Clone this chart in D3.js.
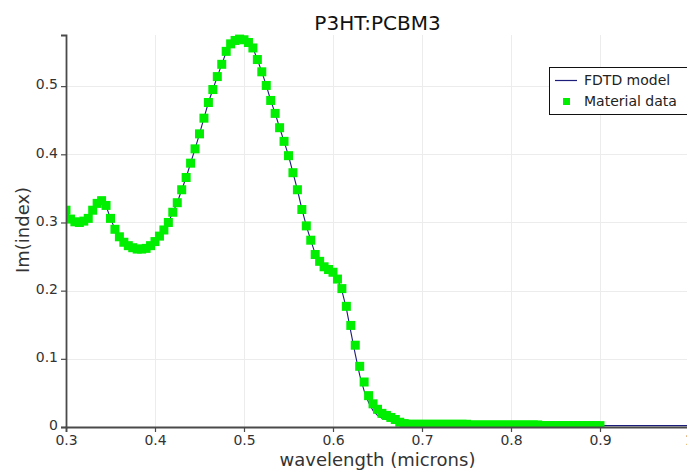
<!DOCTYPE html>
<html>
<head>
<meta charset="utf-8">
<script src="https://cdn.jsdelivr.net/npm/d3@7"></script>
<style>
  html, body { margin: 0; padding: 0; background: #fff; }
  svg { display: block; font-family: "DejaVu Sans", sans-serif; }
</style>
</head>
<body>
<svg id="chart" width="687" height="474"></svg>
<script>
// ---- data ----
const chartTitle = "P3HT:PCBM3";
const xLabel = "wavelength (microns)";
const yLabel = "Im(index)";
const seriesNames = ["FDTD model", "Material data"];

const xTicks = [0.3, 0.4, 0.5, 0.6, 0.7, 0.8, 0.9, 1.0];
const yTicks = [0, 0.1, 0.2, 0.3, 0.4, 0.5];

// sampled material data (imaginary part of refractive index)
const wavelength = [
  0.300, 0.305, 0.310, 0.315, 0.320, 0.325, 0.330, 0.335, 0.340, 0.345,
  0.350, 0.355, 0.360, 0.365, 0.370, 0.375, 0.380, 0.385, 0.390, 0.395,
  0.400, 0.405, 0.410, 0.415, 0.420, 0.425, 0.430, 0.435, 0.440, 0.445,
  0.450, 0.455, 0.460, 0.465, 0.470, 0.475, 0.480, 0.485, 0.490, 0.495,
  0.500, 0.505, 0.510, 0.515, 0.520, 0.525, 0.530, 0.535, 0.540, 0.545,
  0.550, 0.555, 0.560, 0.565, 0.570, 0.575, 0.580, 0.585, 0.590, 0.595,
  0.600, 0.605, 0.610, 0.615, 0.620, 0.625, 0.630, 0.635, 0.640, 0.645,
  0.650, 0.655, 0.660, 0.665, 0.670, 0.675, 0.680, 0.685, 0.690, 0.695,
  0.700, 0.705, 0.710, 0.715, 0.720, 0.725, 0.730, 0.735, 0.740, 0.745,
  0.750, 0.755, 0.760, 0.765, 0.770, 0.775, 0.780, 0.785, 0.790, 0.795,
  0.800, 0.805, 0.810, 0.815, 0.820, 0.825, 0.830, 0.835, 0.840, 0.845,
  0.850, 0.855, 0.860, 0.865, 0.870, 0.875, 0.880, 0.885, 0.890, 0.895,
  0.900
];
const materialData = [
  0.318, 0.305, 0.301, 0.300, 0.302, 0.306, 0.318, 0.328, 0.332, 0.325,
  0.306, 0.290, 0.279, 0.271, 0.266, 0.263, 0.261, 0.261, 0.262, 0.266,
  0.272, 0.280, 0.289, 0.300, 0.315, 0.329, 0.348, 0.366, 0.387, 0.408,
  0.430, 0.453, 0.476, 0.495, 0.514, 0.532, 0.551, 0.562, 0.567, 0.569,
  0.568, 0.564, 0.556, 0.539, 0.521, 0.501, 0.479, 0.460, 0.439, 0.419,
  0.398, 0.373, 0.348, 0.319, 0.295, 0.274, 0.253, 0.243, 0.235, 0.231,
  0.227, 0.217, 0.203, 0.177, 0.149, 0.120, 0.089, 0.066, 0.046, 0.034,
  0.026, 0.020, 0.017, 0.014, 0.011, 0.007, 0.005, 0.004, 0.004, 0.004,
  0.004, 0.004, 0.004, 0.004, 0.004, 0.004, 0.004, 0.004, 0.004, 0.004,
  0.004, 0.003, 0.003, 0.003, 0.003, 0.003, 0.003, 0.003, 0.003, 0.003,
  0.003, 0.003, 0.003, 0.003, 0.003, 0.003, 0.003, 0.002, 0.002, 0.002,
  0.002, 0.002, 0.002, 0.002, 0.002, 0.002, 0.002, 0.002, 0.002, 0.002,
  0.002
];

// fitted FDTD material model
const modelWavelength = [
  0.300, 0.305, 0.310, 0.315, 0.320, 0.325, 0.330, 0.335, 0.340, 0.345,
  0.350, 0.355, 0.360, 0.365, 0.370, 0.375, 0.380, 0.385, 0.390, 0.395,
  0.400, 0.405, 0.410, 0.415, 0.420, 0.425, 0.430, 0.435, 0.440, 0.445,
  0.450, 0.455, 0.460, 0.465, 0.470, 0.475, 0.480, 0.485, 0.490, 0.495,
  0.500, 0.505, 0.510, 0.515, 0.520, 0.525, 0.530, 0.535, 0.540, 0.545,
  0.550, 0.555, 0.560, 0.565, 0.570, 0.575, 0.580, 0.585, 0.590, 0.595,
  0.600, 0.605, 0.610, 0.615, 0.620, 0.625, 0.630, 0.635, 0.640, 0.645,
  0.650, 0.655, 0.660, 0.665, 0.670, 0.675, 0.680,
  0.700, 0.750, 0.800, 0.850, 0.900, 0.950, 1.000
];
const modelValues = [
  0.318, 0.305, 0.301, 0.300, 0.302, 0.307, 0.318, 0.328, 0.332, 0.324,
  0.306, 0.290, 0.279, 0.271, 0.266, 0.263, 0.261, 0.261, 0.262, 0.266,
  0.272, 0.280, 0.289, 0.300, 0.315, 0.329, 0.348, 0.366, 0.387, 0.408,
  0.430, 0.453, 0.476, 0.495, 0.514, 0.532, 0.550, 0.561, 0.567, 0.569,
  0.568, 0.564, 0.556, 0.539, 0.521, 0.501, 0.479, 0.460, 0.439, 0.419,
  0.398, 0.373, 0.348, 0.320, 0.295, 0.274, 0.254, 0.243, 0.236, 0.231,
  0.227, 0.217, 0.200, 0.174, 0.140, 0.107, 0.076, 0.053, 0.036, 0.024,
  0.017, 0.013, 0.011, 0.009, 0.007, 0.005, 0.004,
  0.003, 0.003, 0.003, 0.002, 0.002, 0.002, 0.002
];

// ---- layout ----
const width = 687, height = 474;
const margin = { top: 35, left: 66, bottom: 47 };
const plotRight = 689;               // axis runs slightly past the window edge
const plotBottom = height - margin.bottom;

const x = d3.scaleLinear().domain([0.3, 1.0]).range([margin.left, plotRight]);
const y = d3.scaleLinear().domain([0, 0.575]).range([plotBottom, margin.top]);

const svg = d3.select("#chart");
const fmt = d => String(+d.toFixed(1));

// grid
const grid = svg.append("g").attr("stroke", "#ececec").attr("stroke-width", 1);
grid.selectAll("line.gx").data(xTicks.slice(1)).join("line")
  .attr("x1", d => Math.round(x(d)) + 0.5).attr("x2", d => Math.round(x(d)) + 0.5)
  .attr("y1", margin.top).attr("y2", plotBottom);
grid.selectAll("line.gy").data(yTicks.slice(1)).join("line")
  .attr("x1", margin.left).attr("x2", plotRight)
  .attr("y1", d => Math.round(y(d)) + 0.5).attr("y2", d => Math.round(y(d)) + 0.5);

// plotting area clip
svg.append("clipPath").attr("id", "plot-clip")
  .append("rect")
  .attr("x", margin.left).attr("y", margin.top - 6)
  .attr("width", plotRight - margin.left).attr("height", plotBottom - margin.top + 6);

const plot = svg.append("g").attr("clip-path", "url(#plot-clip)");

// FDTD model line
const modelPoints = modelWavelength.map((w, i) => [w, modelValues[i]]);
plot.append("path")
  .datum(modelPoints)
  .attr("fill", "none")
  .attr("stroke", "#1c1c7a")
  .attr("stroke-width", 1.1)
  .attr("d", d3.line().x(d => x(d[0])).y(d => y(d[1])));

// material data markers
const markerSize = 9;
const dataPoints = wavelength.map((w, i) => [w, materialData[i]]);
plot.selectAll("rect.pt").data(dataPoints).join("rect")
  .attr("class", "pt")
  .attr("x", d => x(d[0]) - markerSize / 2)
  .attr("y", d => y(d[1]) - markerSize / 2)
  .attr("width", markerSize).attr("height", markerSize)
  .attr("fill", "#00ee00");

// axes
const xAxis = d3.axisBottom(x).tickValues(xTicks).tickFormat(fmt).tickSize(5).tickPadding(3);
const yAxis = d3.axisLeft(y).tickValues(yTicks).tickFormat(fmt).tickSize(5).tickPadding(3);

const gx = svg.append("g").attr("transform", `translate(0,${plotBottom})`).call(xAxis);
const gy = svg.append("g").attr("transform", `translate(${margin.left},0)`).call(yAxis);

[gx, gy].forEach(g => {
  g.select(".domain").attr("stroke", "#4a4a4a").attr("stroke-width", 1.8);
  g.selectAll(".tick line").attr("stroke", "#4a4a4a").attr("stroke-width", 1.2);
  g.selectAll(".tick text").attr("fill", "#333").attr("font-size", 14)
    .attr("font-family", "DejaVu Sans, sans-serif");
});
gy.selectAll(".tick text").attr("dy", "0.2em");

// title and axis labels
svg.append("text")
  .attr("x", (margin.left + plotRight) / 2).attr("y", 30)
  .attr("text-anchor", "middle").attr("font-size", 20).attr("fill", "#111")
  .text(chartTitle);

svg.append("text")
  .attr("x", (margin.left + plotRight) / 2).attr("y", 466)
  .attr("text-anchor", "middle").attr("font-size", 18).attr("fill", "#333")
  .text(xLabel);

svg.append("text")
  .attr("transform", "translate(29,230) rotate(-90)")
  .attr("text-anchor", "middle").attr("font-size", 18).attr("fill", "#333")
  .text(yLabel);

// legend
const legend = svg.append("g").attr("transform", "translate(549,67)");
legend.append("rect")
  .attr("x", 0.5).attr("y", 0.5).attr("width", 150).attr("height", 47)
  .attr("fill", "#fff").attr("stroke", "#111").attr("stroke-width", 1);
legend.append("line")
  .attr("x1", 6).attr("x2", 28).attr("y1", 13.5).attr("y2", 13.5)
  .attr("stroke", "#1c1c7a").attr("stroke-width", 1.2);
legend.append("rect")
  .attr("x", 14).attr("y", 31).attr("width", 7).attr("height", 7)
  .attr("fill", "#00ee00");
legend.selectAll("text.lg").data(seriesNames).join("text")
  .attr("class", "lg")
  .attr("x", 35).attr("y", (d, i) => 18 + i * 21)
  .attr("font-size", 14).attr("fill", "#222")
  .text(d => d);
</script>
</body>
</html>
